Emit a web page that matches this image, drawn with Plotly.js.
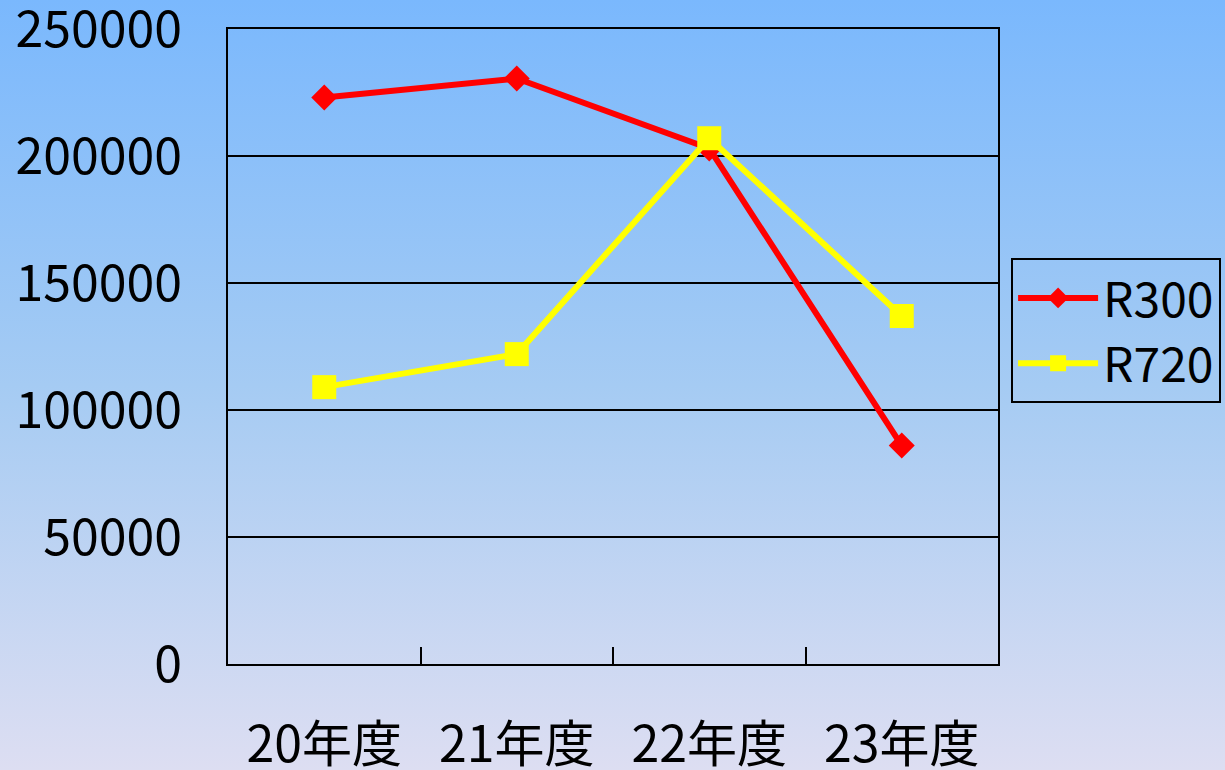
<!DOCTYPE html>
<html>
<head>
<meta charset="utf-8">
<script src="https://cdn.plot.ly/plotly-3.0.1.min.js"></script>
<style>
html,body{margin:0;padding:0;}
body{width:1225px;height:770px;overflow:hidden;background:linear-gradient(to bottom, rgb(122,184,253) 0%, rgb(165,203,243) 50%, rgb(221,222,242) 100%);}
#chart{width:1225px;height:770px;}
</style>
</head>
<body>
<div id="chart"></div>
<script>
const categories = ["20年度", "21年度", "22年度", "23年度"];
const r300 = [223000, 230500, 203000, 86000];
const r720 = [109000, 122000, 207000, 137000];
const yTicks = [0, 50000, 100000, 150000, 200000, 250000];

const font = 'Noto Sans CJK JP, sans-serif';

const traces = [
  {x: categories, y: r300, name: 'R300', type: 'scatter', mode: 'lines+markers',
   line: {color: '#ff0000', width: 6}, marker: {symbol: 'diamond', size: 20, color: '#ff0000'}},
  {x: categories, y: r720, name: 'R720', type: 'scatter', mode: 'lines+markers',
   line: {color: '#ffff00', width: 6}, marker: {symbol: 'square', size: 24, color: '#ffff00'}}
];

const layout = {
  width: 1225, height: 770,
  paper_bgcolor: 'rgba(0,0,0,0)', plot_bgcolor: 'rgba(0,0,0,0)',
  margin: {l: 228, r: 227, t: 29, b: 106, autoexpand: false},
  showlegend: true,
  font: {family: font, color: '#000', size: 48},
  xaxis: {
    type: 'category', range: [-0.5, 3.5], tickson: 'boundaries', ticks: 'inside', ticklen: 17, tickwidth: 2, tickcolor: '#000',
    showline: true, mirror: true, linecolor: '#000', linewidth: 2,
    showgrid: false, zeroline: false, ticklabelstandoff: 36, ticklabeloverflow: 'allow',
    tickfont: {family: font, size: 50, color: '#000'}
  },
  yaxis: {
    range: [0, 250000], tickvals: yTicks, ticktext: yTicks.map(String),
    showline: true, mirror: true, linecolor: '#000', linewidth: 2,
    showgrid: true, gridcolor: '#000', gridwidth: 2, zeroline: false,
    ticks: '', ticklabelstandoff: 34, ticklabeloverflow: 'allow',
    tickfont: {family: font, size: 50, color: '#000'}
  },
  legend: {
    x: 1.017, y: 0.639, xanchor: 'left', yanchor: 'top',
    bgcolor: 'rgba(0,0,0,0)', bordercolor: '#000', borderwidth: 2,
    font: {family: font, size: 48, color: '#000'}, tracegroupgap: 0, itemwidth: 80
  }
};

Plotly.newPlot('chart', traces, layout, {displayModeBar: false, staticPlot: true});
</script>
</body>
</html>
